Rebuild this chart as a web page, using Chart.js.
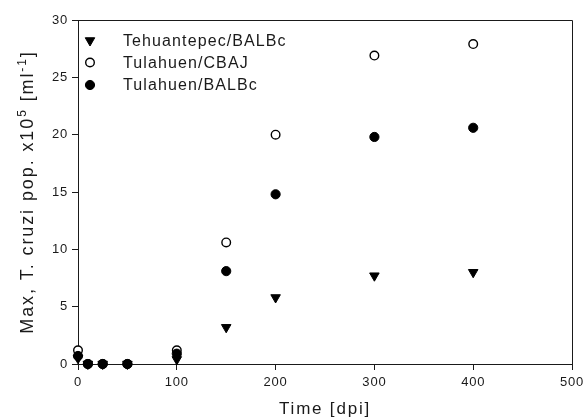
<!DOCTYPE html>
<html>
<head>
<meta charset="utf-8">
<script src="https://cdn.jsdelivr.net/npm/chart.js@4.4.1/dist/chart.umd.min.js"></script>
<style>
  html, body { margin: 0; padding: 0; background: #fff; }
  #wrap { width: 585px; height: 417px; }
</style>
</head>
<body>
<div id="wrap"><canvas id="popChart"></canvas></div>
<script>
// time points (days post infection)
const days = [0, 10, 25, 50, 100, 150, 200, 300, 400];

// max parasite population x10^5 per ml
const tehuantepecBALBc = [0.5, 0, 0, 0, 0.4, 3.2, 5.8, 7.7, 8.0];
const tulahuenCBAJ = [1.2, 0, 0, 0, 1.2, 10.6, 20.0, 26.9, 27.9];
const tulahuenBALBc = [0.7, 0, 0, 0, 0.9, 8.1, 14.8, 19.8, 20.6];

const seriesLabels = ['Tehuantepec/BALBc', 'Tulahuen/CBAJ', 'Tulahuen/BALBc'];

const xTicks = [0, 100, 200, 300, 400, 500];
const yTicks = [0, 5, 10, 15, 20, 25, 30];

const xTitle = 'Time [dpi]';
const yTitleParts = [
  ['Max, T. cruzi pop. x10', false],
  ['5', true],
  [' [ml', false],
  ['-1', true],
  [']', false]
];

const FONT = '"Liberation Sans", Arial, sans-serif';
const INK = '#1a1a1a';

function toPoints(ys) {
  return days.map((d, i) => ({ x: d, y: ys[i] }));
}

// top + right frame lines
const framePlugin = {
  id: 'frame',
  beforeDatasetsDraw(chart) {
    const { ctx, chartArea: a } = chart;
    ctx.save();
    ctx.strokeStyle = INK;
    ctx.lineWidth = 1;
    ctx.beginPath();
    ctx.moveTo(Math.round(a.left) + 0.5, Math.round(a.top) + 0.5);
    ctx.lineTo(Math.round(a.right) + 0.5, Math.round(a.top) + 0.5);
    ctx.lineTo(Math.round(a.right) + 0.5, Math.round(a.bottom) + 0.5);
    ctx.stroke();
    ctx.restore();
  }
};

function drawMarker(ctx, ds, x, y) {
  const r = ds.pointRadius;
  ctx.save();
  ctx.lineWidth = ds.borderWidth;
  ctx.strokeStyle = ds.borderColor;
  ctx.fillStyle = ds.backgroundColor;
  ctx.beginPath();
  if (ds.pointStyle === 'triangle') {
    // pointing down
    for (let k = 0; k < 3; k++) {
      const ang = Math.PI + k * 2 * Math.PI / 3;
      const px = x + Math.sin(ang) * r;
      const py = y - Math.cos(ang) * r;
      if (k === 0) ctx.moveTo(px, py); else ctx.lineTo(px, py);
    }
    ctx.closePath();
  } else {
    ctx.arc(x, y, r, 0, Math.PI * 2);
  }
  ctx.fill();
  ctx.stroke();
  ctx.restore();
}

// legend inside the plot, top-left
const innerLegend = {
  id: 'innerLegend',
  afterDraw(chart) {
    const { ctx } = chart;
    const rows = [40.5, 62.5, 85];
    ctx.save();
    ctx.font = '16px ' + FONT;
    ctx.letterSpacing = '1.1px';
    ctx.fillStyle = INK;
    ctx.textBaseline = 'middle';
    chart.data.datasets.forEach((ds, i) => {
      drawMarker(ctx, ds, 90, rows[i]);
      ctx.fillText(ds.label, 123, rows[i] + 1);
    });
    ctx.restore();
  }
};

// axis titles with letter spacing and superscripts
const axisTitles = {
  id: 'axisTitles',
  beforeDraw(chart) {
    chart.ctx.letterSpacing = '0.8px';
  },
  afterDraw(chart) {
    const { ctx, chartArea: a } = chart;
    ctx.save();
    ctx.fillStyle = INK;
    ctx.textBaseline = 'alphabetic';
    ctx.textAlign = 'left';

    // x title
    ctx.font = '17px ' + FONT;
    ctx.letterSpacing = '1.8px';
    const xw = ctx.measureText(xTitle).width;
    ctx.fillText(xTitle, 325 - xw / 2, 414);

    // y title, rotated
    ctx.translate(33, (a.top + a.bottom) / 2);
    ctx.rotate(-Math.PI / 2);
    ctx.letterSpacing = '1.9px';
    let total = 0;
    const widths = yTitleParts.map(([t, sup]) => {
      ctx.font = (sup ? '12px ' : '18px ') + FONT;
      const w = ctx.measureText(t).width;
      total += w;
      return w;
    });
    let cx = -total / 2;
    yTitleParts.forEach(([t, sup], i) => {
      ctx.font = (sup ? '12px ' : '18px ') + FONT;
      ctx.fillText(t, cx, sup ? -7 : 0);
      cx += widths[i];
    });
    ctx.restore();
  }
};

const pointBase = { showLine: false, clip: false, borderColor: '#000' };

new Chart(document.getElementById('popChart'), {
  type: 'scatter',
  data: {
    datasets: [
      {
        ...pointBase,
        label: seriesLabels[0],
        data: toPoints(tehuantepecBALBc),
        order: 2,
        pointStyle: 'triangle',
        rotation: 180,
        pointRadius: 5.5,
        borderWidth: 1,
        backgroundColor: '#000'
      },
      {
        ...pointBase,
        label: seriesLabels[1],
        data: toPoints(tulahuenCBAJ),
        order: 1,
        pointStyle: 'circle',
        pointRadius: 4.3,
        borderWidth: 1.4,
        backgroundColor: '#fff'
      },
      {
        ...pointBase,
        label: seriesLabels[2],
        data: toPoints(tulahuenBALBc),
        order: 0,
        pointStyle: 'circle',
        pointRadius: 4.6,
        borderWidth: 1,
        backgroundColor: '#000'
      }
    ]
  },
  options: {
    responsive: true,
    maintainAspectRatio: false,
    animation: false,
    events: [],
    layout: { padding: { top: 20, right: 13, left: 0, bottom: 0 } },
    plugins: {
      legend: { display: false },
      tooltip: { enabled: false }
    },
    scales: {
      x: {
        type: 'linear',
        min: 0,
        max: 500,
        afterFit(scale) {
          scale.height = 53;
          scale.paddingLeft = 0;
          scale.paddingRight = 0;
        },
        afterBuildTicks(scale) { scale.ticks = xTicks.map(v => ({ value: v })); },
        grid: {
          drawOnChartArea: false,
          drawTicks: true,
          tickLength: 6,
          color: INK
        },
        border: { display: true, color: INK, width: 1 },
        ticks: {
          color: INK,
          padding: 5,
          maxRotation: 0,
          font: { family: FONT, size: 13 }
        }
      },
      y: {
        type: 'linear',
        min: 0,
        max: 30,
        afterFit(scale) {
          scale.width = 78;
          scale.paddingTop = 0;
          scale.paddingBottom = 0;
        },
        afterBuildTicks(scale) { scale.ticks = yTicks.map(v => ({ value: v })); },
        grid: {
          drawOnChartArea: false,
          drawTicks: true,
          tickLength: 6,
          color: INK
        },
        border: { display: true, color: INK, width: 1 },
        ticks: {
          color: INK,
          padding: 4,
          font: { family: FONT, size: 13 }
        }
      }
    }
  },
  plugins: [framePlugin, innerLegend, axisTitles]
});
</script>
</body>
</html>
